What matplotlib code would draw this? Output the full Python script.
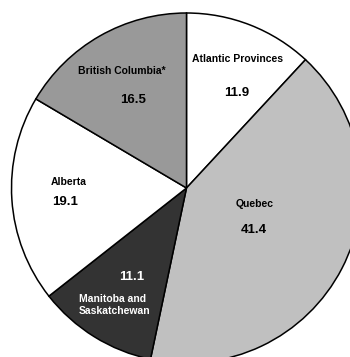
import matplotlib.pyplot as plt

regions = ["Atlantic Provinces", "Quebec", "Manitoba and\nSaskatchewan", "Alberta", "British Columbia*"]
shares = [11.9, 41.4, 11.1, 19.1, 16.5]
colors = ["#ffffff", "#c0c0c0", "#333333", "#ffffff", "#999999"]
text_colors = ["black", "black", "white", "black", "black"]

plt.rcParams['font.family'] = ['Liberation Sans Narrow', 'Liberation Sans', 'DejaVu Sans']

fig = plt.figure(figsize=(3.5, 3.57), dpi=100)
ax = fig.add_axes([0, 0, 1, 1])

ax.pie(shares, colors=colors, startangle=90, counterclock=False,
       center=(186.5, 169), radius=175,
       wedgeprops=dict(edgecolor="black", linewidth=1.1))

# label and value spots for each wedge (label xy, value xy, alignment)
spots = [
    ((238, 298), (237, 264), "center"),
    ((255, 153), (254, 127), "center"),
    ((79, 52), (132, 80), "left"),
    ((69, 175), (65, 155), "center"),
    ((122, 286), (133, 257), "center"),
]

for name, val, tc, (lxy, vxy, ha) in zip(regions, shares, text_colors, spots):
    ax.text(lxy[0], lxy[1], name, ha=ha, va="center", fontsize=7.5,
            fontweight="bold", color=tc, linespacing=1.3)
    ax.text(vxy[0], vxy[1], f"{val:.1f}", ha="center", va="center",
            fontsize=9.5, fontweight="bold", color=tc)

ax.set_xlim(0, 350)
ax.set_ylim(0, 357)
ax.set_aspect("equal")
ax.axis("off")

fig.savefig("out.png", dpi=100)
